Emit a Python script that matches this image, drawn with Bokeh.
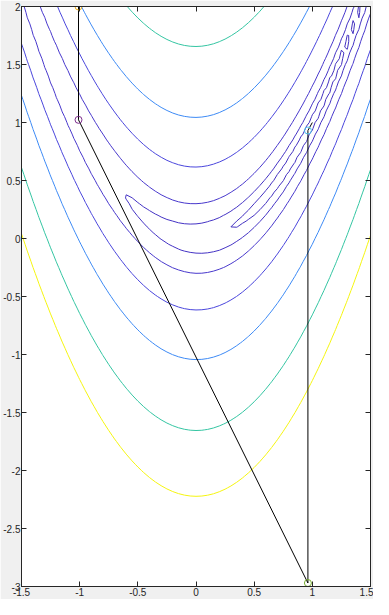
import numpy as np
from bokeh.plotting import figure
from bokeh.models import LinearAxis, FixedTicker, Range1d
from bokeh.embed import file_html
from bokeh.resources import INLINE

# Rosenbrock surface sampled on a grid (the plotted field)
x_grid = np.arange(-1.5, 1.5 + 1e-9, 0.05)
y_grid = np.arange(-3.0, 2.0 + 1e-9, 0.05)
X, Y = np.meshgrid(x_grid, y_grid)
Z = 100.0 * (Y - X ** 2) ** 2 + (1.0 - X) ** 2

# contour levels and their colours
contour_levels = [0.5, 2.65, 10, 39, 110, 275, 495]
contour_colors = ["#4331c0", "#4433c4", "#4838cc", "#4a46dc", "#3d8af5", "#34c5a2", "#f5f510"]

# optimisation path
path_x = [-1.01, -1.01, 0.962, 0.962, 1.0]
path_y = [2.0, 1.023, -2.97, 0.931, 1.0]

# iterate markers
marker_x = [-1.01, -1.01, 0.962, 0.962]
marker_y = [2.0, 1.023, -2.97, 0.931]
marker_colors = ["#edb120", "#7e2f8e", "#77ac30", "#4dbeee"]

# ticks
x_ticks = [-1.5, -1, -0.5, 0, 0.5, 1, 1.5]
x_tick_labels = ["-1.5", "-1", "-0.5", "0", "0.5", "1", "1.5"]
y_ticks = [-3, -2.5, -2, -1.5, -1, -0.5, 0, 0.5, 1, 1.5, 2]
y_tick_labels = ["-3", "-2.5", "-2", "-1.5", "-1", "-0.5", "0", "0.5", "1", "1.5", "2"]

AX = "#262626"
FONT = "Liberation Sans"

p = figure(width=373, height=599,
           x_range=Range1d(-1.5, 1.5), y_range=Range1d(-3, 2),
           output_backend="svg", toolbar_location=None,
           min_border_left=18, min_border_right=3,
           min_border_top=6, min_border_bottom=13,
           background_fill_color="white", border_fill_color="#f0f0f0",
           outline_line_color=AX, outline_line_width=1)
p.xgrid.visible = False
p.ygrid.visible = False

p.contour(x=x_grid, y=y_grid, z=Z, levels=contour_levels,
          line_color=contour_colors, line_width=1)

p.line(path_x, path_y, line_color="black", line_width=1)
p.scatter(marker_x, marker_y, marker="circle", size=7, fill_color=None,
          line_color=marker_colors, line_width=1)


def style(ax, ticks, labels, show):
    ax.ticker = FixedTicker(ticks=ticks)
    ax.major_label_overrides = {t: (l if show else "") for t, l in zip(ticks, labels)}
    ax.major_tick_in = 5
    ax.major_tick_out = 0
    ax.minor_tick_line_color = None
    ax.axis_line_color = AX
    ax.major_tick_line_color = AX
    ax.major_label_text_color = AX
    ax.major_label_text_font = FONT
    ax.major_label_text_font_size = "10px" if show else "0px"
    ax.major_label_standoff = 1 if show else 0


style(p.xaxis[0], x_ticks, x_tick_labels, True)
style(p.yaxis[0], y_ticks, y_tick_labels, True)

top = LinearAxis()
style(top, x_ticks, x_tick_labels, False)
p.add_layout(top, "above")
right = LinearAxis()
style(right, y_ticks, y_tick_labels, False)
p.add_layout(right, "right")

open("out.html", "w").write(file_html(p, INLINE))
